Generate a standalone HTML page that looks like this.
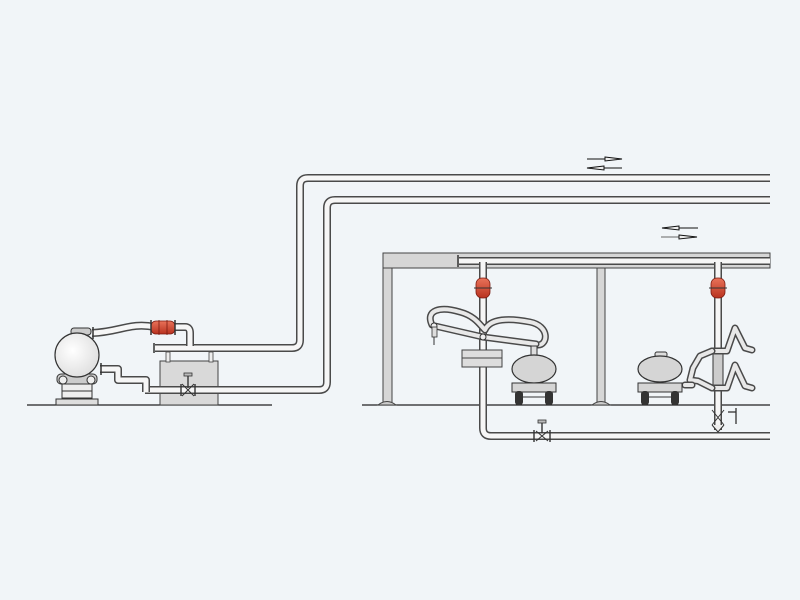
<!DOCTYPE html>
<html><head><meta charset="utf-8"><style>
html,body{margin:0;padding:0;background:#f1f5f8;}
svg{display:block;}
.po{fill:none;stroke:#4a4a4a;stroke-width:8;stroke-linejoin:round;}
.pi{fill:none;stroke:#f6f6f6;stroke-width:5;stroke-linejoin:round;}
.po2{fill:none;stroke:#4a4a4a;stroke-width:7;stroke-linejoin:round;stroke-linecap:round}
.pi2{fill:none;stroke:#e8e8e8;stroke-width:4;stroke-linejoin:round;stroke-linecap:round}
</style></head><body>
<svg width="800" height="600" viewBox="0 0 800 600" xmlns="http://www.w3.org/2000/svg">
<defs>
<radialGradient id="rg" cx="0.4" cy="0.4" r="0.7"><stop offset="0" stop-color="#fff"/><stop offset="1" stop-color="#dcdcdc"/></radialGradient>
<linearGradient id="red" x1="0" x2="0" y1="0" y2="1"><stop offset="0" stop-color="#e9735a"/><stop offset="1" stop-color="#b8321f"/></linearGradient>
</defs>
<line x1="27" y1="405" x2="272" y2="405" stroke="#222" stroke-width="1.2"/>
<line x1="362" y1="405" x2="770" y2="405" stroke="#222" stroke-width="1.2"/>

<!-- tank box (behind pipes) -->
<rect x="160" y="361" width="58" height="44" fill="#d9d9d9" stroke="#444" stroke-width="1"/>
<rect x="166" y="352" width="4" height="10" fill="#eee" stroke="#444" stroke-width="0.8"/>
<rect x="209" y="352" width="4" height="10" fill="#eee" stroke="#444" stroke-width="0.8"/>

<path class="po" d="M155 348 H292 Q300 348 300 340 V186 Q300 178 308 178 H770"/>
<path class="pi" d="M155 348 H292 Q300 348 300 340 V186 Q300 178 308 178 H770"/>
<path class="po" d="M145 390 H319 Q327 390 327 382 V208 Q327 200 335 200 H770"/>
<path class="pi" d="M145 390 H319 Q327 390 327 382 V208 Q327 200 335 200 H770"/>
<line x1="154" y1="343" x2="154" y2="353" stroke="#333" stroke-width="1.5"/>

<path class="po" d="M100 369 H118 V380 H146 V392"/>
<path class="pi" d="M100 369 H118 V380 H146 V392"/>
<line x1="101" y1="363" x2="101" y2="375" stroke="#333" stroke-width="1.5"/>

<!-- valve on lower pipe -->
<path d="M182 384 L194 396 M182 396 L194 384" stroke="#333" stroke-width="1"/>
<line x1="181" y1="384" x2="181" y2="396" stroke="#333" stroke-width="1.4"/>
<line x1="195" y1="384" x2="195" y2="396" stroke="#333" stroke-width="1.4"/>
<line x1="188" y1="376" x2="188" y2="388" stroke="#333" stroke-width="1.4"/>
<rect x="184" y="373" width="8" height="3" fill="#bbb" stroke="#333" stroke-width="0.8"/>

<path class="po" d="M92 333 C120 332 130 322 155 327 H185 Q190 327 190 333 V346"/>
<path class="pi" d="M92 333 C120 332 130 322 155 327 H185 Q190 327 190 333 V346"/>
<line x1="93" y1="327" x2="93" y2="339" stroke="#333" stroke-width="1.5"/>
<rect x="151" y="321" width="24" height="13" rx="5" fill="url(#red)" stroke="#7a1a10" stroke-width="0.8"/>
<line x1="151" y1="320" x2="151" y2="335" stroke="#333" stroke-width="1.5"/>
<line x1="175" y1="320" x2="175" y2="335" stroke="#333" stroke-width="1.5"/>
<line x1="159" y1="320" x2="159" y2="335" stroke="#7a1a10" stroke-width="0.8"/>
<line x1="167" y1="320" x2="167" y2="335" stroke="#7a1a10" stroke-width="0.8"/>

<!-- pump -->
<rect x="71" y="328" width="20" height="7" rx="3" fill="#ccc" stroke="#333"/>
<rect x="57" y="374" width="40" height="10" rx="4" fill="#ccc" stroke="#333"/>
<circle cx="63" cy="380" r="4" fill="#eee" stroke="#333"/>
<circle cx="91" cy="380" r="4" fill="#eee" stroke="#333"/>
<circle cx="77" cy="355" r="22" fill="url(#rg)" stroke="#333" stroke-width="1.2"/>
<rect x="62" y="384" width="30" height="14" fill="#eee" stroke="#333"/>
<line x1="62" y1="391" x2="92" y2="391" stroke="#333"/>
<rect x="56" y="399" width="42" height="6" fill="#ddd" stroke="#333"/>

<!-- structure -->
<rect x="383" y="253" width="387" height="15" fill="#d6d6d6" stroke="#444"/>
<rect x="383" y="268" width="9" height="135" fill="#d6d6d6" stroke="#444"/>
<rect x="597" y="268" width="8" height="135" fill="#d6d6d6" stroke="#444"/>
<path d="M378 405 Q387 398 396 405 Z M592 405 Q601 398 610 405 Z" fill="#ccc" stroke="#444"/>
<path class="po" d="M459 261 H770"/><path class="pi" d="M459 261 H770"/>
<line x1="458" y1="255" x2="458" y2="267" stroke="#333" stroke-width="1.5"/>

<path class="po" d="M483 262 V428 Q483 436 491 436 H770"/>
<path class="pi" d="M483 262 V428 Q483 436 491 436 H770"/>
<rect x="476" y="278" width="14" height="20" rx="6" fill="url(#red)" stroke="#7a1a10" stroke-width="0.8"/>
<line x1="474" y1="288" x2="492" y2="288" stroke="#333"/>
<path d="M536 431 L548 441 M536 441 L548 431" stroke="#333"/>
<line x1="534" y1="430" x2="534" y2="442" stroke="#333" stroke-width="1.4"/>
<line x1="550" y1="430" x2="550" y2="442" stroke="#333" stroke-width="1.4"/>
<line x1="542" y1="423" x2="542" y2="433" stroke="#333" stroke-width="1.4"/>
<rect x="538" y="420" width="8" height="3" fill="#bbb" stroke="#333" stroke-width="0.8"/>

<path class="po2" d="M432 325 C425 310 440 306 460 312 C475 316 480 325 485 330 C490 318 510 318 530 322 C550 326 548 345 538 345"/>
<path class="pi2" d="M432 325 C425 310 440 306 460 312 C475 316 480 325 485 330 C490 318 510 318 530 322 C550 326 548 345 538 345"/>
<path class="po2" d="M435 326 L483 337 L536 344"/>
<path class="pi2" d="M435 326 L483 337 L536 344"/>
<circle cx="434" cy="326" r="3" fill="#eee" stroke="#333"/>
<circle cx="483" cy="337" r="3" fill="#eee" stroke="#333"/>
<rect x="432" y="327" width="5" height="10" fill="#ddd" stroke="#333" stroke-width="0.8"/>
<line x1="434" y1="337" x2="434" y2="345" stroke="#333"/>
<rect x="462" y="350" width="40" height="17" fill="#ddd" stroke="#444"/>
<line x1="462" y1="358" x2="502" y2="358" stroke="#444"/>
<rect x="531" y="346" width="6" height="10" fill="#ddd" stroke="#333"/>

<ellipse cx="534" cy="369" rx="22" ry="14" fill="#d5d5d5" stroke="#333" stroke-width="1.2"/>
<rect x="512" y="383" width="44" height="9" fill="#d5d5d5" stroke="#333"/>
<rect x="515" y="391" width="8" height="14" rx="3" fill="#333"/>
<rect x="545" y="391" width="8" height="14" rx="3" fill="#333"/>
<line x1="523" y1="397" x2="545" y2="397" stroke="#333"/>

<path class="po" d="M718 262 V430"/><path class="pi" d="M718 262 V430"/>
<rect x="711" y="278" width="14" height="20" rx="6" fill="url(#red)" stroke="#7a1a10" stroke-width="0.8"/>
<line x1="709" y1="288" x2="727" y2="288" stroke="#333"/>
<rect x="713" y="348" width="10" height="40" fill="#ccc" stroke="#333"/>
<path class="po2" d="M712 351 L727 351 L735 328 L745 348 L752 350"/><path class="pi2" d="M712 351 L727 351 L735 328 L745 348 L752 350"/>
<path class="po2" d="M712 388 L727 388 L735 365 L745 386 L752 388"/><path class="pi2" d="M712 388 L727 388 L735 365 L745 386 L752 388"/>
<path class="po2" d="M712 351 L700 356 L693 368 L690 380 L698 381 L712 388"/><path class="pi2" d="M712 351 L700 356 L693 368 L690 380 L698 381 L712 388"/>
<path class="po2" d="M685 385 L692 385"/><path class="pi2" d="M685 385 L692 385"/>
<path d="M712 410 L724 425 M724 410 L712 425" stroke="#333"/>
<line x1="728" y1="412" x2="736" y2="412" stroke="#333" stroke-width="1.3"/>
<line x1="736" y1="408" x2="736" y2="424" stroke="#333" stroke-width="1.3"/>
<path d="M712 425 L718 432 L724 425" fill="#eee" stroke="#333"/>

<rect x="655" y="352" width="12" height="5" rx="2" fill="#ddd" stroke="#333"/>
<ellipse cx="660" cy="369" rx="22" ry="13" fill="#d5d5d5" stroke="#333" stroke-width="1.2"/>
<rect x="638" y="383" width="44" height="9" fill="#d5d5d5" stroke="#333"/>
<rect x="641" y="391" width="8" height="14" rx="3" fill="#333"/>
<rect x="671" y="391" width="8" height="14" rx="3" fill="#333"/>
<line x1="649" y1="397" x2="671" y2="397" stroke="#333"/>

<g stroke="#111" stroke-width="1" fill="#eee">
<line x1="587" y1="159" x2="622" y2="159"/><path d="M605 157 L622 159 L605 161 Z"/>
<line x1="587" y1="168" x2="622" y2="168"/><path d="M604 166 L587 168 L604 170 Z"/>
<line x1="662" y1="228" x2="698" y2="228"/><path d="M679 226 L662 228 L679 230 Z"/>
<line x1="661" y1="237" x2="697" y2="237" stroke="#666"/><path d="M679 235 L697 237 L679 239 Z"/>
</g>
</svg>
</body></html>
